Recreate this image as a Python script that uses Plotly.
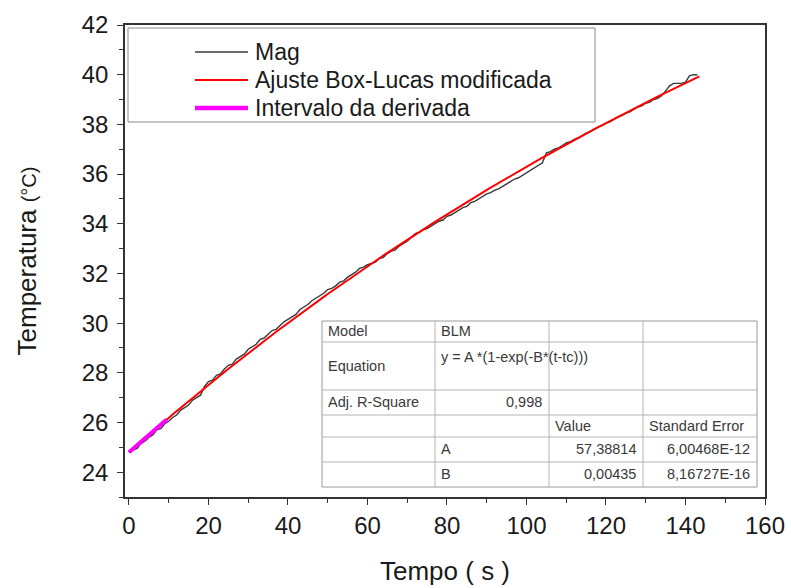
import numpy as np
import plotly.graph_objects as go

# Measured temperature (sensor "Mag"), one reading per second
tempo = list(range(0, 144))
mag = [
    24.80, 24.90, 24.95, 25.15, 25.25, 25.40, 25.50, 25.70, 25.75, 25.95,
    26.05, 26.20, 26.30, 26.50, 26.60, 26.70, 26.90, 27.00, 27.10, 27.45,
    27.65, 27.70, 27.90, 27.95, 28.15, 28.30, 28.35, 28.55, 28.65, 28.75,
    28.95, 29.05, 29.15, 29.35, 29.40, 29.55, 29.70, 29.75, 29.90, 30.05,
    30.15, 30.25, 30.35, 30.55, 30.65, 30.75, 30.90, 31.00, 31.10, 31.20,
    31.35, 31.40, 31.50, 31.65, 31.70, 31.85, 31.95, 32.05, 32.20, 32.25,
    32.35, 32.40, 32.45, 32.60, 32.65, 32.80, 32.90, 32.95, 33.10, 33.20,
    33.30, 33.45, 33.60, 33.65, 33.75, 33.80, 33.90, 34.00, 34.10, 34.15,
    34.30, 34.35, 34.45, 34.55, 34.65, 34.70, 34.85, 34.90, 35.00, 35.10,
    35.20, 35.25, 35.35, 35.40, 35.50, 35.60, 35.70, 35.80, 35.85, 35.95,
    36.05, 36.15, 36.25, 36.35, 36.45, 36.85, 36.90, 37.00, 37.05, 37.15,
    37.25, 37.30, 37.40, 37.45, 37.55, 37.65, 37.70, 37.80, 37.90, 37.95,
    38.05, 38.10, 38.20, 38.30, 38.35, 38.45, 38.50, 38.60, 38.70, 38.75,
    38.85, 38.90, 39.00, 39.05, 39.15, 39.35, 39.55, 39.65, 39.65, 39.65,
    39.70, 39.95, 40.00, 40.00,
]

# Modified Box-Lucas fit: y = A*(1-exp(-B*(t-tc)))
fit_A = 57.38814
fit_B = 0.00435
fit_tc = -130.1
fit_span = (0.0, 143.5)
deriv_span = (0.0, 9.5)

legend_labels = ["Mag", "Ajuste Box-Lucas modificada", "Intervalo da derivada"]
series_colors = ["#3a3a3a", "#ff0000", "#ff00ff"]
series_widths = [1.4, 2, 4]

x_ticks = list(range(0, 161, 20))
y_ticks = list(range(24, 43, 2))

# Fit report table: (column, text, horizontal anchor)
table_cells = [
    [(0, "Model", "left"), (1, "BLM", "left")],
    [(0, "Equation", "left"), (1, "y = A *(1-exp(-B*(t-tc)))", "left")],
    [(0, "Adj. R-Square", "left"), (1, "0,998", "right")],
    [(2, "Value", "left"), (3, "Standard Error", "left")],
    [(1, "A", "left"), (2, "57,38814", "right"), (3, "6,00468E-12", "right")],
    [(1, "B", "left"), (2, "0,00435", "right"), (3, "8,16727E-16", "right")],
]


def box_lucas(t):
    return fit_A * (1 - np.exp(-fit_B * (t - fit_tc)))


W, H = 791, 588
L, R, T, B = 125, 765, 25, 497


def px(x):
    return (x - L) / (R - L)


def py(y):
    return (B - y) / (B - T)


FONT = "Liberation Sans, Arial, sans-serif"

fig = go.Figure()

fig.add_trace(go.Scatter(
    x=tempo, y=mag, mode="lines", name=legend_labels[0],
    line=dict(color=series_colors[0], width=series_widths[0]),
))

t_fit = np.linspace(fit_span[0], fit_span[1], 300)
fig.add_trace(go.Scatter(
    x=t_fit, y=box_lucas(t_fit), mode="lines", name=legend_labels[1],
    line=dict(color=series_colors[1], width=series_widths[1]),
))

t_der = np.linspace(deriv_span[0], deriv_span[1], 40)
fig.add_trace(go.Scatter(
    x=t_der, y=box_lucas(t_der), mode="lines", name=legend_labels[2],
    line=dict(color=series_colors[2], width=series_widths[2]),
))

shapes = []
annotations = []

# Legend box drawn inside the plot's top-left corner
shapes.append(dict(type="rect", xref="paper", yref="paper",
                   x0=px(128), x1=px(595), y0=py(122), y1=py(28),
                   line=dict(color="#8a8a8a", width=1), fillcolor="white",
                   layer="above"))
for i, lab in enumerate(legend_labels):
    yy = 52 + 28 * i
    shapes.append(dict(type="line", xref="paper", yref="paper",
                       x0=px(195), x1=px(248), y0=py(yy), y1=py(yy),
                       line=dict(color=series_colors[i], width=series_widths[i] + (0.5 if i == 2 else 0)),
                       layer="above"))
    annotations.append(dict(xref="paper", yref="paper", x=px(253), y=py(yy),
                            text=lab, showarrow=False, xanchor="left",
                            yanchor="middle",
                            font=dict(family=FONT, size=23, color="#1a1a1a")))

# Fit report table
col_x = [322, 435, 549, 643, 757]
row_y = [321, 342, 390, 415, 437, 462, 487]
grid_color = "#b4b4b4"
shapes.append(dict(type="rect", xref="paper", yref="paper",
                   x0=px(col_x[0]), x1=px(col_x[-1]),
                   y0=py(row_y[-1]), y1=py(row_y[0]),
                   line=dict(color="#9a9a9a", width=1), fillcolor="white",
                   layer="above"))
for cx in col_x[1:-1]:
    shapes.append(dict(type="line", xref="paper", yref="paper",
                       x0=px(cx), x1=px(cx), y0=py(row_y[-1]), y1=py(row_y[0]),
                       line=dict(color=grid_color, width=1), layer="above"))
for ry in row_y[1:-1]:
    shapes.append(dict(type="line", xref="paper", yref="paper",
                       x0=px(col_x[0]), x1=px(col_x[-1]), y0=py(ry), y1=py(ry),
                       line=dict(color=grid_color, width=1), layer="above"))

text_y = [331, 366, 402, 426, 449, 474]
for r, cells in enumerate(table_cells):
    for c, txt, anchor in cells:
        yy = text_y[r]
        if r == 1 and c == 1:
            yy = 357
        if anchor == "left":
            xx = col_x[c] + 4
        else:
            xx = col_x[c + 1] - 5
        annotations.append(dict(xref="paper", yref="paper", x=px(xx), y=py(yy),
                                text=txt, showarrow=False, xanchor=anchor,
                                yanchor="middle",
                                font=dict(family=FONT, size=14.5, color="#3a3a3a")))

axis_common = dict(
    showgrid=False, zeroline=False, showline=True, linecolor="#333333",
    linewidth=1.5, mirror=True, ticks="outside", tickcolor="#333333",
    tickwidth=1.3, ticklen=6, automargin=False,
    tickfont=dict(family=FONT, size=24, color="#1a1a1a"),
)

fig.update_layout(
    width=W, height=H, autosize=False,
    margin=dict(l=L, r=W - R, t=T, b=H - B),
    paper_bgcolor="white", plot_bgcolor="white",
    showlegend=False,
    shapes=shapes, annotations=annotations,
    xaxis=dict(
        range=[-1, 160], tickvals=x_ticks,
        minor=dict(dtick=10, ticks="outside", ticklen=4, tickcolor="#333333",
                   tickwidth=1.2, showgrid=False),
        title=dict(text="Tempo ( s )", standoff=24,
                   font=dict(family=FONT, size=26, color="#1a1a1a")),
        **axis_common,
    ),
    yaxis=dict(
        range=[23, 42], tickvals=y_ticks, ticklabelstandoff=4,
        minor=dict(dtick=1, ticks="outside", ticklen=4, tickcolor="#333333",
                   tickwidth=1.2, showgrid=False),
        title=dict(text="Temperatura <span style='font-size:20px'>(°C)</span>",
                   standoff=38,
                   font=dict(family=FONT, size=26, color="#1a1a1a")),
        **axis_common,
    ),
)

fig.write_html("out.html")
